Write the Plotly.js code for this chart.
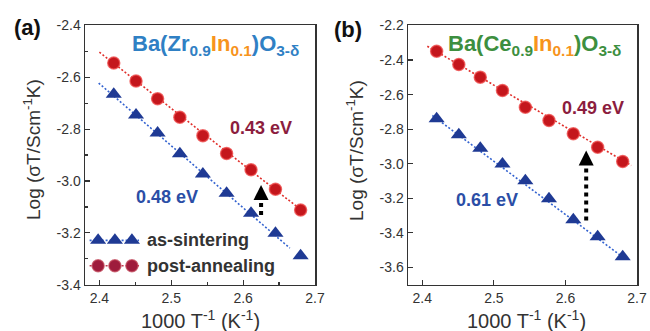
<!DOCTYPE html>
<html>
<head>
<meta charset="utf-8">
<script src="https://cdn.plot.ly/plotly-3.0.1.min.js"></script>
<style>html,body{margin:0;padding:0;background:#fff;}#chart{width:650px;height:331px;}</style>
</head>
<body>
<div id="chart"></div>
<script>
// ---- data ----
const invT = [2.42, 2.451, 2.481, 2.512, 2.544, 2.577, 2.611, 2.645, 2.68];
const zrPost = [-2.545, -2.614, -2.683, -2.754, -2.825, -2.894, -2.957, -3.032, -3.112];
const zrAs   = [-2.665, -2.745, -2.815, -2.895, -2.973, -3.047, -3.124, -3.202, -3.288];
const cePost = [-2.349, -2.426, -2.499, -2.576, -2.673, -2.750, -2.827, -2.905, -2.987];
const ceAs   = [-2.740, -2.833, -2.910, -3.001, -3.098, -3.203, -3.325, -3.422, -3.538];

// fitted lines (end points)
const zrPostFitX = [2.400, 2.680], zrPostFitY = [-2.503, -3.110];
const zrAsFitX   = [2.399, 2.665], zrAsFitY   = [-2.622, -3.259];
const cePostFitX = [2.407, 2.692], cePostFitY = [-2.320, -3.010];
const ceAsFitX   = [2.414, 2.680], ceAsFitY   = [-2.721, -3.540];

// activation energies
const zrLabels = ['0.43 eV', '0.48 eV'];
const ceLabels = ['0.49 eV', '0.61 eV'];
const seriesNames = ['as-sintering', 'post-annealing'];

// ticks
const xTickVals = [2.4, 2.5, 2.6, 2.7];
const xTickText = ['2.4', '2.5', '2.6', '2.7'];
const xMinorA = [2.45, 2.55, 2.65];
const yTickValsA = [-2.4, -2.6, -2.8, -3.0, -3.2, -3.4];
const yTickTextA = ['-2.4', '-2.6', '-2.8', '-3.0', '-3.2', '-3.4'];
const yMinorA = [-2.5, -2.7, -2.9, -3.1, -3.3];
const yTickValsB = [-2.2, -2.4, -2.6, -2.8, -3.0, -3.2, -3.4, -3.6];
const yTickTextB = ['-2.2', '-2.4', '-2.6', '-2.8', '-3.0', '-3.2', '-3.4', '-3.6'];

// ---- styles ----
const RED = '#c4161c', RED_EDGE = 'rgba(236,70,70,0.75)', NAVY = '#1f3a94';
const RED_LINE = '#e0302c', BLUE_LINE = '#3463d0';
const MAROON = '#8c1d3e', EVBLUE = '#2b4ea6';
const FBLUE = '#2f80c4', FORANGE = '#f7941d', FGREEN = '#3d8f3f';
const FONT = 'Liberation Sans, Arial, sans-serif';
const TXT = '#333333';

const circ = {symbol: 'circle', size: 12, color: RED, line: {color: RED_EDGE, width: 1.5}};
const tri = {symbol: 'triangle-up', size: 14, color: NAVY, line: {width: 0}};
const fitLine = c => ({color: c, width: 1.6, dash: '2px,2px'});

const traces = [
  {x: zrPostFitX, y: zrPostFitY, mode: 'lines', line: fitLine(RED_LINE), xaxis: 'x', yaxis: 'y', hoverinfo: 'skip'},
  {x: zrAsFitX, y: zrAsFitY, mode: 'lines', line: fitLine(BLUE_LINE), xaxis: 'x', yaxis: 'y', hoverinfo: 'skip'},
  {x: invT, y: zrPost, mode: 'markers', marker: circ, name: seriesNames[1], xaxis: 'x', yaxis: 'y'},
  {x: invT, y: zrAs, mode: 'markers', marker: tri, name: seriesNames[0], xaxis: 'x', yaxis: 'y'},
  {x: cePostFitX, y: cePostFitY, mode: 'lines', line: fitLine(RED_LINE), xaxis: 'x2', yaxis: 'y2', hoverinfo: 'skip'},
  {x: ceAsFitX, y: ceAsFitY, mode: 'lines', line: fitLine(BLUE_LINE), xaxis: 'x2', yaxis: 'y2', hoverinfo: 'skip'},
  {x: invT, y: cePost, mode: 'markers', marker: circ, name: seriesNames[1], xaxis: 'x2', yaxis: 'y2'},
  {x: invT, y: ceAs, mode: 'markers', marker: tri, name: seriesNames[0], xaxis: 'x2', yaxis: 'y2'}
];

// custom legend (three markers per entry) on an overlay axis of panel (a)
const legX = [0.057, 0.130, 0.204];
const legLineX = [0.02, 0.235];
traces.push(
  {x: legLineX, y: [0.171, 0.171], mode: 'lines', line: fitLine(BLUE_LINE), xaxis: 'x3', yaxis: 'y3', hoverinfo: 'skip'},
  {x: legX, y: [0.171, 0.171, 0.171], mode: 'markers', marker: tri, xaxis: 'x3', yaxis: 'y3', hoverinfo: 'skip'},
  {x: legLineX, y: [0.073, 0.073], mode: 'lines', line: fitLine('#c23a50'), xaxis: 'x3', yaxis: 'y3', hoverinfo: 'skip'},
  {x: legX, y: [0.073, 0.073, 0.073], mode: 'markers', marker: {symbol: 'circle', size: 12, color: '#9e1c3c', line: {color: 'rgba(190,60,80,0.7)', width: 1.5}}, xaxis: 'x3', yaxis: 'y3', hoverinfo: 'skip'}
);

const domA = [85 / 650, 315 / 650], domB = [408 / 650, 637 / 650], domY = [0.14, 0.923];

const axBase = {
  showline: true, linecolor: TXT, linewidth: 1.5, mirror: true,
  ticks: 'inside', ticklen: 5, tickwidth: 1.2, tickcolor: TXT,
  showgrid: false, zeroline: false, tickmode: 'array',
  tickfont: {family: FONT, size: 14, color: TXT}, fixedrange: true
};

const P = (o) => Object.assign({xref: 'paper', yref: 'paper', xanchor: 'center', yanchor: 'middle', showarrow: false}, o);
const D = (o) => Object.assign({xanchor: 'center', yanchor: 'middle', showarrow: false}, o);

const layout = {
  width: 650, height: 331,
  margin: {l: 0, r: 0, t: 0, b: 0},
  paper_bgcolor: '#ffffff', plot_bgcolor: 'rgba(0,0,0,0)',
  showlegend: false,
  font: {family: FONT, color: TXT},
  xaxis: Object.assign({}, axBase, {domain: domA, anchor: 'y', range: [2.38, 2.70], tickvals: xTickVals, ticktext: xTickText,
    minor: {tickvals: xMinorA, ticks: 'inside', ticklen: 3, tickcolor: TXT, showgrid: false}}),
  yaxis: Object.assign({}, axBase, {domain: domY, anchor: 'x', range: [-3.4, -2.4], tickvals: yTickValsA, ticktext: yTickTextA,
    minor: {tickvals: yMinorA, ticks: 'inside', ticklen: 3, tickcolor: TXT, showgrid: false}}),
  xaxis2: Object.assign({}, axBase, {domain: domB, anchor: 'y2', range: [2.38, 2.70], tickvals: xTickVals, ticktext: xTickText}),
  yaxis2: Object.assign({}, axBase, {domain: domY, anchor: 'x2', range: [-3.7, -2.2], tickvals: yTickValsB, ticktext: yTickTextB}),
  xaxis3: {overlaying: 'x', anchor: 'y3', range: [0, 1], visible: false, fixedrange: true},
  yaxis3: {overlaying: 'y', anchor: 'x3', range: [0, 1], visible: false, fixedrange: true},
  shapes: [
    {type: 'line', xref: 'x', yref: 'y', x0: 2.625, x1: 2.625, y0: -3.131, y1: -3.058, line: {color: '#000', width: 4, dash: 'dot'}},
    {type: 'line', xref: 'x2', yref: 'y2', x0: 2.629, x1: 2.629, y0: -3.329, y1: -2.990, line: {color: '#000', width: 4, dash: 'dot'}}
  ],
  annotations: [
    // panel labels
    P({text: '<b>(a)</b>', x: 27.5 / 650, y: 1 - 28 / 331, font: {size: 22, color: '#111'}}),
    P({text: '<b>(b)</b>', x: 348 / 650, y: 1 - 29 / 331, font: {size: 22, color: '#111'}}),
    // axis titles
    P({text: 'Log (σT/Scm<sup>-1</sup>K)', x: 32 / 650, y: 0.547, textangle: -90, font: {size: 19, color: TXT}}),
    P({text: 'Log (σT/Scm<sup>-1</sup>K)', x: 355 / 650, y: 0.547, textangle: -90, font: {size: 19, color: TXT}}),
    P({text: '1000 T<sup>-1</sup> (K<sup>-1</sup>)', x: 200 / 650, y: 1 - 319 / 331, font: {size: 20, color: TXT}}),
    P({text: '1000 T<sup>-1</sup> (K<sup>-1</sup>)', x: 526.5 / 650, y: 1 - 319 / 331, font: {size: 20, color: TXT}}),
    // formulas
    P({text: '<b>Ba(Zr<sub>0.9</sub><span style="color:' + FORANGE + '">In<sub>0.1</sub></span>)O<sub>3-δ</sub></b>', x: 215.5 / 650, y: 1 - 45 / 331, font: {size: 22, color: FBLUE}}),
    P({text: '<b>Ba(Ce<sub>0.9</sub><span style="color:' + FORANGE + '">In<sub>0.1</sub></span>)O<sub>3-δ</sub></b>', x: 534.5 / 650, y: 1 - 45 / 331, font: {size: 22, color: FGREEN}}),
    // activation energies
    D({text: '<b>' + zrLabels[0] + '</b>', xref: 'x', yref: 'y', x: 2.625, y: -2.795, font: {size: 18, color: MAROON}}),
    D({text: '<b>' + zrLabels[1] + '</b>', xref: 'x', yref: 'y', x: 2.494, y: -3.061, font: {size: 18, color: EVBLUE}}),
    D({text: '<b>' + ceLabels[0] + '</b>', xref: 'x2', yref: 'y2', x: 2.639, y: -2.675, font: {size: 18, color: MAROON}}),
    D({text: '<b>' + ceLabels[1] + '</b>', xref: 'x2', yref: 'y2', x: 2.490, y: -3.208, font: {size: 18, color: EVBLUE}}),
    // arrow heads
    {text: '', xref: 'x', yref: 'y', x: 2.625, y: -3.015, ax: 0, ay: 16, showarrow: true, arrowhead: 2, arrowsize: 1, arrowwidth: 3, arrowcolor: '#000'},
    {text: '', xref: 'x2', yref: 'y2', x: 2.629, y: -2.924, ax: 0, ay: 16, showarrow: true, arrowhead: 2, arrowsize: 1, arrowwidth: 3, arrowcolor: '#000'},
    // legend texts
    {text: '<b>' + seriesNames[0] + '</b>', xref: 'x3', yref: 'y3', x: 0.261, y: 0.171, xanchor: 'left', yanchor: 'middle', showarrow: false, font: {size: 18, color: TXT}},
    {text: '<b>' + seriesNames[1] + '</b>', xref: 'x3', yref: 'y3', x: 0.261, y: 0.073, xanchor: 'left', yanchor: 'middle', showarrow: false, font: {size: 18, color: TXT}}
  ]
};

Plotly.newPlot('chart', traces, layout, {staticPlot: true, displayModeBar: false});
</script>
</body>
</html>
